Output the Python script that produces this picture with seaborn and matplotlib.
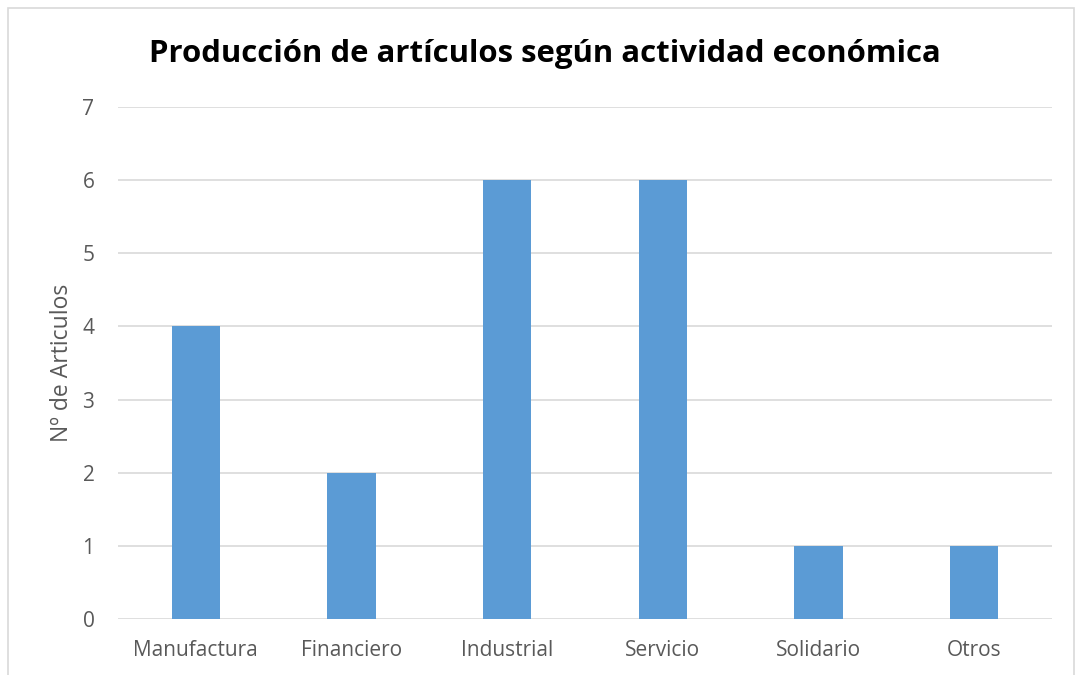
import pandas as pd
import matplotlib.pyplot as plt
import seaborn as sns
from matplotlib.patches import Rectangle

# data
categorias = ["Manufactura", "Financiero", "Industrial", "Servicio", "Solidario", "Otros"]
articulos = [4, 2, 6, 6, 1, 1]

df = pd.DataFrame({"Actividad": categorias, "Articulos": articulos})

sns.set_style("white")
plt.rcParams['font.family'] = ['Open Sans', 'DejaVu Sans']

fig = plt.figure(figsize=(10.77, 6.75), dpi=100)
ax = fig.add_axes([0.1096, 0.083, 0.8672, 0.7585])

sns.barplot(data=df, x="Actividad", y="Articulos", color="#5B9BD5",
            width=0.31, saturation=1, linewidth=0, ax=ax)

ax.set_ylim(0, 7)
ax.set_yticks(range(0, 8))
ax.yaxis.grid(True, color="#D9D9D9", linewidth=1.2)
ax.set_axisbelow(True)
for s in ax.spines.values():
    s.set_visible(False)

ax.tick_params(axis="both", length=0, labelsize=15, labelcolor="#595959")
ax.tick_params(axis="x", pad=15)
ax.tick_params(axis="y", pad=17)
ax.set_xlabel("")
ax.set_ylabel("Nº de Articulos", fontsize=16.5, color="#595959", labelpad=6)

fig.text(0.506, 0.92, "Producción de artículos según actividad económica",
         ha="center", va="center", fontsize=22.4, fontweight="bold", color="black")

# outer chart border
fig.patches.append(Rectangle((0.0075, -0.01), 0.99, 0.998, transform=fig.transFigure,
                             fill=False, edgecolor="#D9D9D9", linewidth=1.2))

fig.savefig("out.png", dpi=100)
